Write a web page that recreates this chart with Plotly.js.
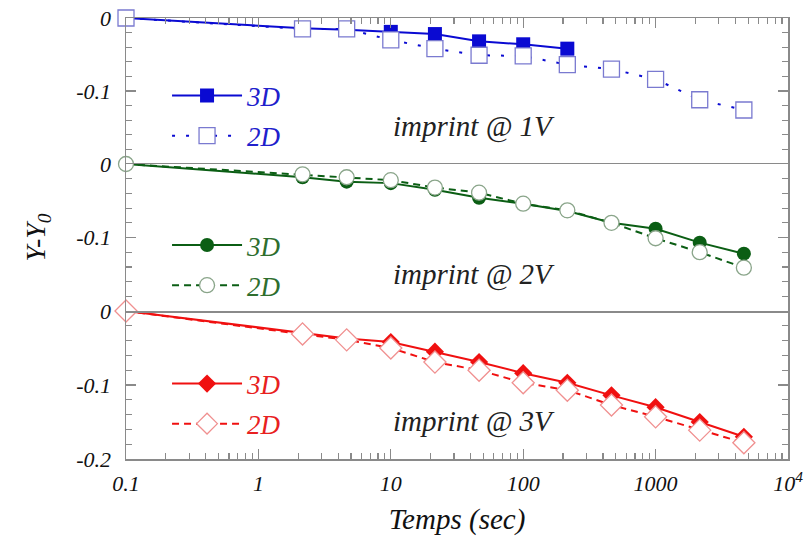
<!DOCTYPE html>
<html>
<head>
<meta charset="utf-8">
<script src="https://cdn.plot.ly/plotly-3.0.1.min.js"></script>
<style>
  html, body { margin: 0; padding: 0; background: #fff; }
  #chart { width: 805px; height: 539px; }
</style>
</head>
<body>
<div id="chart"></div>
<script>
// Relaxation times (s), one point every third of a decade after 0.1 s
const times = [0.1, 2.154, 4.642, 10, 21.54, 46.42, 100, 215.4, 464.2, 1000, 2154, 4642];
const times3D1V = times.slice(0, 8);

// Y - Y0 shifts
const shift3D1V = [0, -0.014, -0.016, -0.019, -0.022, -0.032, -0.036, -0.042];
const shift2D1V = [0, -0.015, -0.015, -0.030, -0.042, -0.051, -0.052, -0.064, -0.070, -0.084, -0.112, -0.126];
const shift3D2V = [0, -0.018, -0.024, -0.026, -0.035, -0.046, -0.054, -0.064, -0.080, -0.088, -0.107, -0.122];
const shift2D2V = [0, -0.014, -0.018, -0.022, -0.032, -0.039, -0.054, -0.063, -0.080, -0.101, -0.120, -0.141];
const shift3D3V = [0, -0.029, -0.037, -0.042, -0.055, -0.069, -0.084, -0.097, -0.114, -0.130, -0.150, -0.170];
const shift2D3V = [0, -0.031, -0.039, -0.050, -0.069, -0.080, -0.097, -0.107, -0.127, -0.143, -0.161, -0.178];

const seriesNames = ['3D', '2D'];
const panelLabels = ['imprint @ 1V', 'imprint @ 2V', 'imprint @ 3V'];
const xTickVals = [0.1, 1, 10, 100, 1000, 10000];
const xTickText = ['0.1', '1', '10', '100', '1000', '10<sup>4</sup>'];
const yTickVals = [0, -0.1, -0.2];
const yTickText = ['0', '-0.1', '-0.2'];

const SERIF = '"Liberation Serif", "Times New Roman", serif';
const AXIS_GRAY = '#8a8a8a';
const BLUE = '#0a0ad2', BLUE_LIGHT = '#7a7ad0';
const GREEN = '#0b5e14', GREEN_LIGHT = '#8aa58a';
const RED = '#f01010', RED_LIGHT = '#f09090';

function solid(x, y, color, symbol, xa, ya, leg) {
  return {
    x: x, y: y, xaxis: xa, yaxis: ya, legend: leg, name: seriesNames[0],
    type: 'scatter', mode: 'lines+markers', legendgroup: leg + 'a', cliponaxis: false,
    line: { color: color, width: 2 },
    marker: { symbol: symbol, size: 14, color: color, line: { width: 0 } }
  };
}
function open(x, y, color, edge, dash, symbol, xa, ya, leg, size) {
  return {
    x: x, y: y, xaxis: xa, yaxis: ya, legend: leg, name: seriesNames[1],
    type: 'scatter', mode: 'lines+markers', legendgroup: leg + 'b', cliponaxis: false,
    line: { color: color, width: 2, dash: dash },
    marker: { symbol: symbol, size: size, color: '#ffffff', line: { width: 1.3, color: edge } }
  };
}

const data = [
  solid(times3D1V, shift3D1V, BLUE, 'square', 'x3', 'y', 'legend'),
  open(times, shift2D1V, BLUE, BLUE_LIGHT, '3px,11px', 'square', 'x3', 'y', 'legend', 16),
  solid(times, shift3D2V, GREEN, 'circle', 'x2', 'y2', 'legend2'),
  open(times, shift2D2V, GREEN, GREEN_LIGHT, '7px,5px', 'circle', 'x2', 'y2', 'legend2', 15),
  solid(times, shift3D3V, RED, 'diamond', 'x', 'y3', 'legend3'),
  open(times, shift2D3V, RED, RED_LIGHT, '7px,5px', 'diamond', 'x', 'y3', 'legend3', 17)
];

// minor tick positions: every digit inside each decade, every 0.02 on y
const xMinor = [];
for (let e = -1; e < 4; e++) for (let d = 2; d <= 9; d++) xMinor.push(d * Math.pow(10, e));
const yMinor = [];
for (let k = 1; k < 10; k++) if (k !== 5) yMinor.push(-0.02 * k);

const tickFont = { family: SERIF, size: 22, style: 'italic', color: '#111' };

function yAxis(domain, anchor, nLabels) {
  return {
    domain: domain, anchor: anchor, range: [-0.2, 0], fixedrange: true,
    showgrid: false, zeroline: false,
    showline: true, linecolor: AXIS_GRAY, linewidth: 1.5, mirror: 'ticks',
    ticks: 'inside', ticklen: 10, tickcolor: AXIS_GRAY, tickwidth: 1.3,
    ticklabelstandoff: 9,
    tickmode: 'array', tickvals: yTickVals.slice(0, nLabels), ticktext: yTickText.slice(0, nLabels),
    tickfont: tickFont,
    minor: { tickmode: 'array', tickvals: yMinor, ticks: 'inside', ticklen: 6, tickcolor: AXIS_GRAY, tickwidth: 1.2, showgrid: false }
  };
}
function xAxis(anchor, opts) {
  return Object.assign({
    type: 'log', range: [-1, 4], anchor: anchor, fixedrange: true,
    showgrid: false, zeroline: false,
    showline: true, linecolor: AXIS_GRAY, linewidth: 1.5, mirror: false,
    tickcolor: AXIS_GRAY, tickwidth: 1.3,
    tickmode: 'array', tickvals: xTickVals, ticktext: xTickText, tickfont: tickFont
  }, opts);
}
const xMinorStyle = { tickmode: 'array', tickvals: xMinor, ticks: 'inside', ticklen: 6, tickcolor: AXIS_GRAY, tickwidth: 1.2, showgrid: false };

function legendBox(y, color) {
  return {
    x: 0.062, y: y, xanchor: 'left', yanchor: 'middle',
    bgcolor: 'rgba(0,0,0,0)', borderwidth: 0,
    itemwidth: 70, traceorder: 'grouped', tracegroupgap: 2,
    itemclick: false, itemdoubleclick: false,
    font: { family: SERIF, size: 27, style: 'italic', color: color }
  };
}

function panelNote(text, y) {
  return {
    text: text, xref: 'paper', yref: 'paper', x: 0.4, y: y,
    xanchor: 'left', yanchor: 'middle', showarrow: false,
    font: { family: SERIF, size: 29, style: 'italic', color: '#222' }
  };
}

const layout = {
  width: 805, height: 539,
  margin: { l: 126, r: 17, t: 18, b: 80 },
  paper_bgcolor: '#ffffff', plot_bgcolor: '#ffffff',
  showlegend: true,
  xaxis: xAxis('y3', {
    ticks: 'inside', ticklen: 10, minor: xMinorStyle, ticklabelstandoff: 4,
    title: { text: 'Temps (sec)', font: { family: SERIF, size: 29, style: 'italic', color: '#111' }, standoff: 14 }
  }),
  // middle panel axis draws both panel separators
  xaxis2: xAxis('y2', { matches: 'x', ticks: '', showticklabels: false, mirror: true }),
  xaxis3: xAxis('y', { matches: 'x', side: 'top', ticks: 'inside', ticklen: 10, showticklabels: false, minor: xMinorStyle }),
  yaxis: yAxis([0.6689, 1], 'x3', 2),
  yaxis2: Object.assign(yAxis([0.3356, 0.6689], 'x2', 2), {
    title: { text: 'Y-Y<sub>0</sub>', font: { family: SERIF, size: 28, style: 'italic', color: '#111' }, standoff: 22 }
  }),
  yaxis3: yAxis([0, 0.3356], 'x', 3),
  legend: legendBox(0.7778, '#2020cc'),
  legend2: legendBox(0.4388, '#2e6e2e'),
  legend3: legendBox(0.1247, '#e82020'),
  annotations: [
    panelNote(panelLabels[0], 0.753),
    panelNote(panelLabels[1], 0.4195),
    panelNote(panelLabels[2], 0.086)
  ]
};

Plotly.newPlot('chart', data, layout, { displayModeBar: false, staticPlot: true });
</script>
</body>
</html>
